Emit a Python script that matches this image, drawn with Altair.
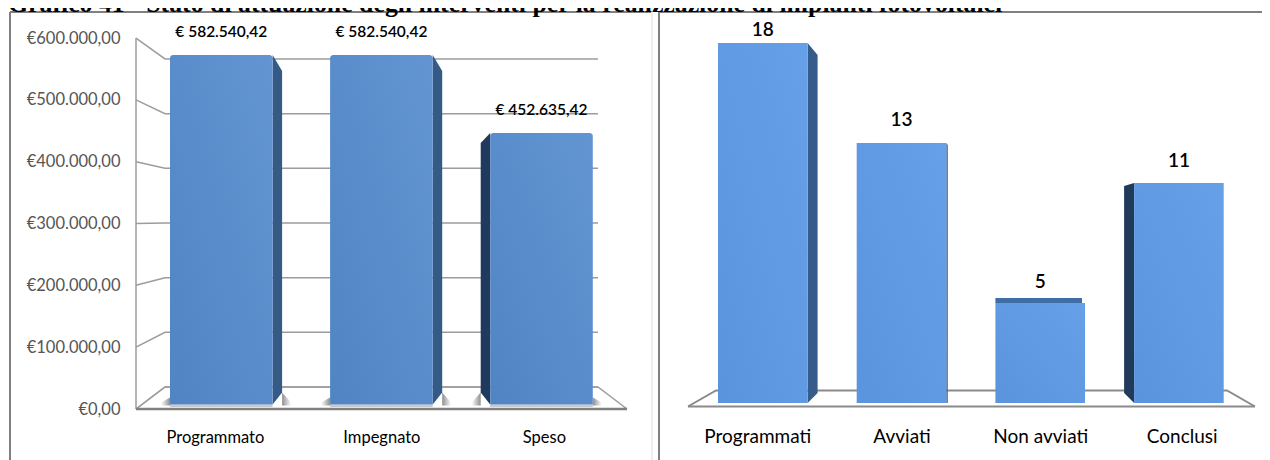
import altair as alt
import pandas as pd

TITLE = "Grafico 41 - Stato di attuazione degli interventi per la realizzazione di impianti fotovoltaici"

left_cats = ["Programmato", "Impegnato", "Speso"]
left_vals = [582540.42, 582540.42, 452635.42]
left_text = ["€ 582.540,42", "€ 582.540,42", "€ 452.635,42"]
left_ticks = [0, 100000, 200000, 300000, 400000, 500000, 600000]

right_cats = ["Programmati", "Avviati", "Non avviati", "Conclusi"]
right_vals = [18, 13, 5, 11]

W, H = 1254, 452
FONT = "Lato"
GRID = "#9c9c9c"
FRAME = "#808080"


def py(p):
    return p - 8


def xdom(c0, step):
    return [(8 - c0) / step, (8 + W - c0) / step]


def ydom(zero, k):
    return [(zero - 460) / k, (zero - 8) / k]


def grad(a, b):
    return alt.Gradient(gradient="linear", x1=0, y1=1, x2=1, y2=0,
                        stops=[alt.GradientStop(color=a, offset=0), alt.GradientStop(color=b, offset=1)])


def hgrad(a, b):
    return alt.Gradient(gradient="linear", x1=0, y1=0, x2=1, y2=0,
                        stops=[alt.GradientStop(color=a, offset=0), alt.GradientStop(color=b, offset=1)])


# ---- scales of the left panel
LC0, LSTEP = 221.3, 160.1
LX = alt.Scale(domain=xdom(LC0, LSTEP))
BK = 0.0006
LB = alt.Scale(domain=ydom(404.5, BK))
FK = 0.6183 / 1000
LF = alt.Scale(domain=ydom(409, FK))
# ---- scales of the right panel
RC0, RSTEP = 762.8, 138.7
RX = alt.Scale(domain=xdom(RC0, RSTEP))
RK = 20.0
RB = alt.Scale(domain=ydom(403, RK))


def lx(p):
    return (p - LC0) / LSTEP


def rx(p):
    return (p - RC0) / RSTEP


def xe(xs, axis=None):
    return alt.X("x:Q", scale=xs, axis=axis)


def ye(ys, axis=None):
    return alt.Y("y:Q", scale=ys, axis=axis)


def lines(rows, xs, ys, color=GRID, w=1.5, xaxis=None, yaxis=None):
    df = pd.DataFrame(rows, columns=["g", "x", "y"])
    return alt.Chart(df).mark_line(color=color, strokeWidth=w, clip=False).encode(
        x=xe(xs, xaxis), y=ye(ys, yaxis), detail="g:N")


def face(xa, xb, ta, tb, ba, bb, xs, ys, color):
    df = pd.DataFrame({"x": [xa, xb], "y": [ta, tb], "y2": [ba, bb]})
    return alt.Chart(df).mark_area(color=color, interpolate="linear").encode(
        x=xe(xs), y=ye(ys), y2="y2:Q")


def box(xa, xb, ytop, ybot, xs, ys, fill, radius=0):
    df = pd.DataFrame({"x": [xa], "x1": [xb], "y": [ytop], "y1": [ybot]})
    return alt.Chart(df).mark_rect(color=fill, cornerRadiusTopLeft=radius, cornerRadiusTopRight=radius).encode(
        x=xe(xs), x2="x1:Q", y=ye(ys), y2="y1:Q")


def frame(x0, x1, top=True, color=FRAME, w=2):
    parts = [alt.Chart(pd.DataFrame({"a": [0]})).mark_rule(color=color, strokeWidth=w).encode(
        x=alt.value(py(x0)), y=alt.value(py(12)), y2=alt.value(H))]
    if top:
        parts.append(alt.Chart(pd.DataFrame({"a": [0]})).mark_rule(color=color, strokeWidth=w).encode(
            x=alt.value(py(x0)), x2=alt.value(py(x1)), y=alt.value(py(12))))
    return parts


layers = []

# ---- frames
layers += frame(10, 651)
layers += frame(652, 652, top=False, color="#dddddd", w=1)
layers += frame(659, 1262)

# ---- left panel: walls and floor
front_x, back_x, end_x, floor_x = lx(136), lx(165), lx(598), lx(627)


def back_val(v):
    return (409 - (387 - 0.5467 * v / 1000)) / FK


wall = []
for v in left_ticks:
    wall.append((f"s{v}", front_x, v))
    wall.append((f"s{v}", back_x, back_val(v)))
    wall.append((f"s{v}", end_x, back_val(v)))
wall += [("front", front_x, 0), ("front", front_x, 600000)]
wall += [("fl", back_x, back_val(0)), ("fl", front_x, 0), ("fl", floor_x, 0), ("fl", end_x, back_val(0))]
layers.append(lines(
    wall, LX, LF,
    xaxis=alt.Axis(values=[-0.04, 1, 2.015],
                   labelExpr="['" + "','".join(left_cats) + "'][round(datum.value)]",
                   orient="bottom", offset=-(H - py(437)), domain=False, ticks=False, grid=False,
                   labelPadding=0, labelBaseline="middle", labelFont=FONT, labelFontSize=16.5,
                   labelColor="#000000", labelOverlap=False, title=None),
    yaxis=alt.Axis(values=left_ticks, orient="left", offset=-py(120), domain=False, ticks=False, grid=False,
                   labelPadding=0, labelFont=FONT, labelFontSize=16.5, labelColor="#555555",
                   labelOverlap=False, title=None,
                   labelExpr="datum.value==0?'€0,00':'€'+format(datum.value/1000,'d')+'.000,00'"),
))
layers.append(lines([("fl2", front_x, 0), ("fl2", floor_x, 0)], LX, LF, color="#808080", w=2.5))

# ---- left panel: bars
HW = 51.3 / LSTEP
DEPTH = 9.5 / LSTEP
SH = 9 / LSTEP
for i, v in enumerate(left_vals):
    side = -1 if i == 2 else 1
    edge = i + side * HW
    outer = edge + side * DEPTH
    # soft shadows on the floor, at the foot of the bar
    ra = max(edge, outer) if side > 0 else i + HW
    la = min(edge, outer) if side < 0 else i - HW
    layers.append(face(ra, ra + SH, (12 if side > 0 else 7) / BK, 2 / BK, -1 / BK, -1 / BK, LX, LB,
                       hgrad("#8f8f8f", "#ffffff")))
    layers.append(face(la - SH, la, 2 / BK, (12 if side < 0 else 7) / BK, -1 / BK, -1 / BK, LX, LB,
                       hgrad("#ffffff", "#8f8f8f")))
    layers.append(box(i - HW, i + HW, 0, -2.5 / BK, LX, LB, "#c9c9c9"))
    layers.append(face(min(edge, outer), max(edge, outer),
                       *((v - 10 / BK, v) if side < 0 else (v, v - 16 / BK)),
                       *((12 / BK, 0) if side < 0 else (0, 12 / BK)),
                       LX, LB, "#1f3a5c" if side < 0 else "#345a85"))
    layers.append(box(i - HW, i + HW, v, 0, LX, LB, grad("#5184c3", "#6395d3"), radius=3))
    df = pd.DataFrame({"x": [i], "y": [v], "t": [left_text[i]]})
    layers.append(alt.Chart(df).mark_text(font=FONT, fontSize=15.5, fontWeight=600, color="#000000", dy=-23,
                                          baseline="middle").encode(x=xe(LX), y=ye(LB), text="t:N"))

# ---- right panel: floor
rfl = [("r", rx(688), -3.5 / RK), ("r", rx(716), 12.5 / RK), ("r", rx(1227), 12.5 / RK), ("r", rx(1255), -3.5 / RK),
       ("f", rx(688), -3.5 / RK), ("f", rx(1255), -3.5 / RK)]
layers.append(lines(
    rfl, RX, RB, color="#8a8a8a", w=2,
    xaxis=alt.Axis(values=[-0.04, 1, 2, 3.02],
                   labelExpr="['" + "','".join(right_cats) + "'][round(datum.value)]",
                   orient="bottom", offset=-(H - py(436)), domain=False, ticks=False, grid=False,
                   labelPadding=0, labelBaseline="middle", labelFont=FONT, labelFontSize=19,
                   labelColor="#000000", labelOverlap=False, title=None),
))

# ---- right panel: bars
RHW = 44.8 / RSTEP
RDEPTH = 10 / RSTEP
label_gap = [-13, -23, -21, -22]
for i, v in enumerate(right_vals):
    c = i
    if i == 0:
        e = c + RHW
        layers.append(face(e, e + RDEPTH, v, v - 12 / RK, 0, 10 / RK, RX, RB, "#365c8c"))
    if i == 1:
        e = c + RHW
        layers.append(face(e, e + 1.5 / RSTEP, v, v - 2 / RK, 0, 0, RX, RB, "#3d6596"))
    if i == 2:
        layers.append(box(c - RHW, c + RHW - 3 / RSTEP, v + 5 / RK, v, RX, RB, "#3f6ea6"))
    if i == 3:
        e = c - RHW
        layers.append(face(e - RDEPTH, e, v - 3 / RK, v, 10 / RK, 0, RX, RB, "#223a5a"))
    layers.append(box(c - RHW, c + RHW, v, 0, RX, RB, grad("#5a94dc", "#66a0e8")))
    df = pd.DataFrame({"x": [c], "y": [v], "t": [str(v)]})
    layers.append(alt.Chart(df).mark_text(font=FONT, fontSize=19, fontWeight=600, color="#000000", dy=label_gap[i],
                                          baseline="middle").encode(x=xe(RX), y=ye(RB), text="t:N"))

# ---- title, cut by the upper edge as in the reference
layers.append(alt.Chart(pd.DataFrame({"t": [TITLE]})).mark_text(
    font="Liberation Serif", fontSize=25.8, fontWeight="bold", color="#000000", align="left", baseline="alphabetic"
).encode(x=alt.value(0), y=alt.value(py(12)), text="t:N"))

chart = alt.layer(*layers).resolve_scale(x="independent", y="independent").properties(
    width=W, height=H, padding=0, autosize=alt.AutoSizeParams(type="none"),
    background="white",
).configure_view(stroke=None)

chart.save("out.html", embed_options={"renderer": "svg", "actions": False})
